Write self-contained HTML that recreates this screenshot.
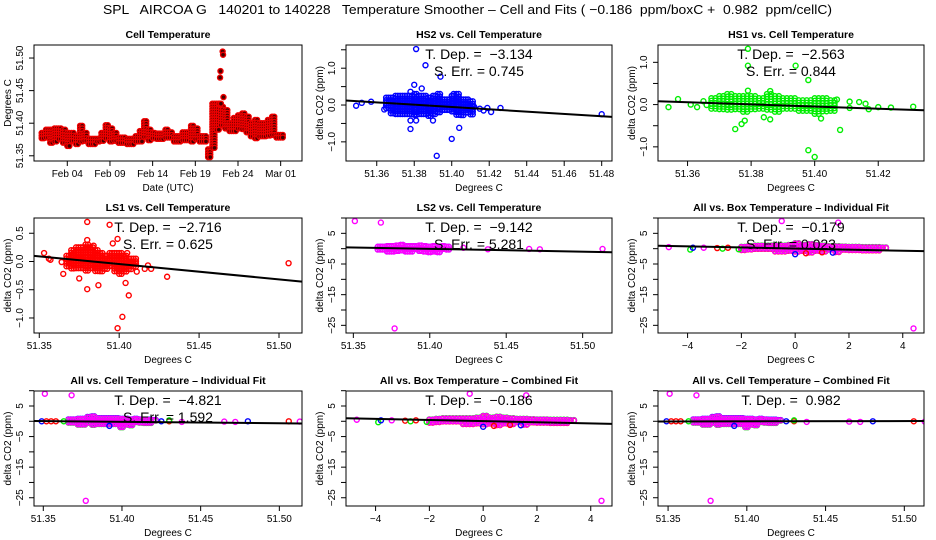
<!DOCTYPE html>
<html><head><meta charset="utf-8">
<style>
html,body{margin:0;padding:0;background:#fff;}
svg{display:block;font-family:"Liberation Sans",sans-serif;}
svg text{white-space:pre;}
</style></head>
<body>
<svg id="chart" width="936" height="540" viewBox="0 0 936 540" xmlns="http://www.w3.org/2000/svg">
<text x="103" y="14" font-size="13" textLength="729" lengthAdjust="spacingAndGlyphs" xml:space="preserve">SPL   AIRCOA G   140201 to 140228   Temperature Smoother – Cell and Fits ( −0.186  ppm/boxC +  0.982  ppm/cellC)</text>
</svg>
<script>
// ---- Panel 1: cell temperature time series (half-day slots from Feb 1.0) ----
const tsLo=[51.375,51.375,51.37,51.372,51.375,51.37,51.365,51.37,51.368,51.372,51.37,51.366,51.368,51.37,51.372,51.375,51.372,51.372,51.37,51.37,51.366,51.366,51.37,51.372,51.378,51.372,51.375,51.376,51.376,51.376,51.375,51.372,51.37,51.372,51.372,51.372,51.376,51.37,51.372,51.345,51.36,51.39,51.395,51.39,51.385,51.385,51.39,51.39,51.385,51.38,51.376,51.38,51.378,51.38,51.38,51.376,51.376];
const tsHi=[51.385,51.39,51.39,51.392,51.392,51.39,51.385,51.385,51.38,51.396,51.385,51.376,51.376,51.376,51.385,51.397,51.392,51.385,51.378,51.378,51.376,51.376,51.38,51.388,51.403,51.39,51.385,51.384,51.384,51.39,51.386,51.38,51.38,51.386,51.386,51.396,51.392,51.38,51.38,51.36,51.43,51.43,51.425,51.42,51.40,51.408,51.412,51.415,51.41,51.40,51.405,51.40,51.40,51.405,51.41,51.382,51.382];
const tsOutT=[20.8,20.9,20.95,21.0,21.2,21.25,21.3];
const tsOutV=[51.43,51.47,51.48,51.43,51.51,51.505,51.44];
const dateTicks=[3,8,13,18,23,28];
const dateLabels=["Feb 04","Feb 09","Feb 14","Feb 19","Feb 24","Mar 01"];
const p1YTicks=[51.35,51.40,51.45,51.50];
const p1YLabels=["51.35","51.40","51.45","51.50"];

// ---- HS2 ----
const hs2BinX=[51.365,51.3675,51.37,51.3725,51.375,51.3775,51.38,51.3825,51.385,51.3875,51.39,51.3925,51.395,51.3975,51.40,51.4025,51.405,51.4075,51.41];
const hs2BinLo=[-0.15,-0.25,-0.25,-0.25,-0.25,-0.25,-0.3,-0.3,-0.25,-0.3,-0.3,-0.25,-0.2,-0.2,-0.2,-0.3,-0.3,-0.25,-0.3];
const hs2BinHi=[0.2,0.2,0.25,0.25,0.25,0.25,0.3,0.25,0.25,0.2,0.25,0.3,0.15,0.15,0.25,0.3,0.15,0.15,0.1];
const hs2OutX=[51.349,51.352,51.357,51.364,51.381,51.386,51.394,51.380,51.384,51.378,51.378,51.381,51.378,51.390,51.392,51.400,51.404,51.401,51.415,51.417,51.419,51.421,51.426,51.480,51.412];
const hs2OutY=[-0.02,0.06,0.09,-0.12,1.52,1.08,0.77,0.55,0.45,0.36,-0.42,-0.42,-0.65,-0.42,-1.38,-0.92,-0.62,0.3,-0.1,-0.15,-0.08,-0.19,-0.08,-0.25,-0.05];
// ---- HS1 ----
const hs1BinX=[51.3675,51.37,51.3725,51.375,51.3775,51.38,51.3825,51.385,51.3875,51.39,51.3925,51.395,51.3975,51.40,51.4025,51.405];
const hs1BinLo=[-0.1,-0.15,-0.15,-0.15,-0.2,-0.15,-0.15,-0.15,-0.2,-0.15,-0.1,-0.15,-0.2,-0.25,-0.2,-0.2];
const hs1BinHi=[0.15,0.2,0.25,0.2,0.2,0.2,0.15,0.25,0.2,0.15,0.15,0.1,0.1,0.15,0.15,0.1];
const hs1OutX=[51.354,51.357,51.361,51.363,51.365,51.366,51.379,51.379,51.394,51.398,51.379,51.386,51.378,51.377,51.375,51.384,51.386,51.398,51.400,51.408,51.402,51.407,51.411,51.411,51.414,51.416,51.417,51.420,51.424,51.431];
const hs1OutY=[-0.06,0.13,0.0,-0.06,0.08,-0.01,1.32,0.92,0.92,0.58,0.33,0.32,-0.38,-0.46,-0.58,-0.3,-0.35,-1.08,-1.24,-0.6,-0.33,0.12,0.07,-0.08,0.06,0.02,-0.11,-0.06,-0.07,-0.05];
// ---- LS1 ----
const ls1BinX=[51.367,51.37,51.373,51.376,51.379,51.382,51.385,51.388,51.391,51.394,51.397,51.40,51.403,51.406,51.409];
const ls1BinLo=[-0.1,-0.15,-0.15,-0.15,-0.2,-0.15,-0.2,-0.2,-0.15,-0.1,-0.2,-0.25,-0.2,-0.15,-0.1];
const ls1BinHi=[0.1,0.2,0.25,0.25,0.3,0.25,0.2,0.15,0.1,0.15,0.15,0.15,0.1,0.05,0.05];
const ls1OutX=[51.353,51.356,51.357,51.364,51.365,51.375,51.380,51.380,51.380,51.387,51.394,51.396,51.399,51.405,51.404,51.406,51.402,51.399,51.411,51.416,51.418,51.42,51.43,51.506,51.384];
const ls1OutY=[0.15,0.05,0.03,-0.01,-0.22,-0.3,0.7,0.38,-0.49,-0.42,0.65,0.32,0.4,0.15,-0.38,-0.6,-0.98,-1.18,-0.18,-0.13,-0.07,-0.13,-0.27,-0.03,0.28];
// ---- LS2 ----
const ls2BinX=[51.366,51.369,51.372,51.375,51.378,51.381,51.384,51.387,51.39,51.393,51.396,51.399,51.402,51.405,51.408,51.411];
const ls2BinLo=[-0.8,-0.8,-1,-1,-0.8,-1,-1,-1,-0.8,-1,-1.5,-1.8,-1,-1.5,-0.8,-0.5];
const ls2BinHi=[0.6,0.6,0.8,0.8,1,1.2,0.8,0.8,0.8,1,0.8,0.6,0.8,0.6,0.8,0.6];
const ls2OutX=[51.351,51.368,51.377,51.422,51.438,51.465,51.472,51.513];
const ls2OutY=[9,8.5,-26,0.3,-0.2,-0.1,-0.2,-0.1];
// ---- All vs box ----
const boxBinX=[-2,-1.75,-1.5,-1.25,-1,-0.75,-0.5,-0.25,0,0.25,0.5,0.75,1,1.25,1.5,1.75,2,2.25,2.5,2.75,3,3.25];
const boxBinLo=[-0.5,-0.5,-0.6,-0.6,-0.6,-0.7,-0.8,-0.8,-1.5,-1,-1.2,-0.8,-1,-0.8,-1,-0.7,-0.6,-0.5,-0.6,-0.5,-0.5,-0.3];
const boxBinHi=[0.6,0.8,1,1,1,1,1,1.2,1.8,1.2,1.5,1.2,1,0.8,0.8,0.7,0.6,0.6,0.5,0.5,0.5,0.4];
const boxOutX=[-4.7,-3.9,-3.8,-3.4,-2.9,-2.7,-2.5,-2.1,-0.5,1.6,4.4,0,0.4,1.0,1.4];
const boxOutY=[0.5,-0.3,0.3,0.3,0.2,0,0.3,-0.2,9,8.5,-26,-1.8,-1.5,-1.2,-1.3];
const boxOutC=["m","g","b","m","r","g","r","g","m","m","m","b","r","r","b"];
// ---- All vs cell ----
const cellBinX=[51.366,51.369,51.372,51.375,51.378,51.381,51.384,51.387,51.39,51.393,51.396,51.399,51.402,51.405,51.408,51.411,51.414,51.417,51.42];
const cellBinLo=[-0.8,-0.8,-1,-1,-0.8,-1,-1,-1,-1.5,-1,-1.5,-1.8,-1,-1.5,-0.8,-0.5,-0.5,-0.5,-0.4];
const cellBinHi=[0.6,0.6,0.8,0.8,1.4,1.6,1,1,1,1,1,0.8,0.8,0.6,0.8,0.6,0.5,0.5,0.4];
const cellOutX=[51.349,51.352,51.355,51.358,51.363,51.351,51.368,51.377,51.425,51.43,51.43,51.438,51.465,51.472,51.48,51.506,51.513,51.392];
const cellOutY=[0,0,0,0,0,9,8.5,-26,0,0,0.3,-0.2,-0.1,-0.2,0,0,-0.1,-1.5];
const cellOutC=["b","r","r","r","g","m","m","m","b","r","g","m","m","m","b","r","m","b"];

const fitSlopes=[-3.134,-2.563,-2.716,-9.142,-0.179,-4.821,-0.186,0.982];
const fitErrs=[0.745,0.844,0.625,5.281,0.023,1.592];

const svg=document.getElementById('chart');
const NS="http://www.w3.org/2000/svg";
function mk(tag,attrs,parent){const e=document.createElementNS(NS,tag);for(const k in attrs)e.setAttribute(k,attrs[k]);(parent||svg).appendChild(e);return e;}
const COL={r:"#ff0000",g:"#00ee00",b:"#0000ff",m:"#ff00ff"};

function panel(id,box,xl,yl,title){
  const g=mk('g',{});
  
  
  const [L,T,R,B]=box;
  const sx=v=>L+(v-xl[0])/(xl[1]-xl[0])*(R-L);
  const sy=v=>B-(v-yl[0])/(yl[1]-yl[0])*(B-T);
  const t=mk('text',{x:(L+R)/2,y:T-7,'text-anchor':'middle','font-size':10.5,'font-weight':'bold'},g);
  t.textContent=title;
  
  
  const cl=mk('clipPath',{id:'c'+id},g);mk('rect',{x:L,y:T,width:R-L,height:B-T},cl);
  const plot=mk('g',{'clip-path':'url(#c'+id+')'},g);
  return {g,plot,sx,sy,L,T,R,B};
}
function axes(p,xt,xlab,yt,ylab,xtitle,ytitle){
  const a=mk('g',{stroke:'#000','stroke-width':1,fill:'none'},p.g);
  const fr=mk('rect',{x:p.L,y:p.T,width:p.R-p.L,height:p.B-p.T},a);
  
  
  xt.forEach((v,i)=>{const x=p.sx(v);mk('line',{x1:x,x2:x,y1:p.B,y2:p.B+5},a);
    const tx=mk('text',{x:x,y:p.B+16,'text-anchor':'middle','font-size':10,fill:'#000',stroke:'none'},p.g);tx.textContent=xlab[i];
    
    });
  yt.forEach((v,i)=>{const y=p.sy(v);mk('line',{x1:p.L-5,x2:p.L,y1:y,y2:y},a);
    if(ylab[i]!==""){const ty=mk('text',{x:0,y:0,transform:`translate(${p.L-11},${y}) rotate(-90)`,'text-anchor':'middle','font-size':10,fill:'#000'},p.g);ty.textContent=ylab[i];
    
    }});
  const xtt=mk('text',{x:(p.L+p.R)/2,y:p.B+30,'text-anchor':'middle','font-size':10},p.g);xtt.textContent=xtitle;
  
  
  const ytt=mk('text',{x:0,y:0,transform:`translate(${p.L-23},${(p.T+p.B)/2}) rotate(-90)`,'text-anchor':'middle','font-size':10},p.g);ytt.textContent=ytitle;
  
  
}
function dot(p,x,y,c,fill){const e=mk('circle',{cx:x,cy:y,r:2.5,fill:fill||'none',stroke:c,'stroke-width':1.4},p.plot);
  
  }
function cloud(p,bx,lo,hi,c,dy){
  const step=Math.max(Math.abs(p.sx(bx[1])-p.sx(bx[0])),1);
  bx.forEach((v,i)=>{const y0=p.sy(hi[i]),y1=p.sy(lo[i]);
    for(let k=0;k<2;k++){const x=p.sx(v)+k*step/2;
      for(let y=y0;y<=y1+0.1;y+=2.6) dot(p,x,y+(dy||0),c);}});
}
function outs(p,xs,ys,c,cs){xs.forEach((v,i)=>dot(p,p.sx(v),p.sy(ys[i]),cs?COL[cs[i]]:c));}
function fit(p,slope,center,offset){
  const l=mk('line',{x1:p.L,x2:p.R,y1:p.sy(offset+slope*(p.xl0-center)),y2:p.sy(offset+slope*(p.xl1-center)),stroke:'#000','stroke-width':2},p.g);
  
  }
function ann(p,lines){lines.forEach((s,i)=>{const t=mk('text',{x:(p.L+p.R)/2,y:p.T+14+i*17,'text-anchor':'middle','font-size':14},p.g);t.textContent=s;
  
  });}
function fmt(v){return (v<0?'\u2212':'')+Math.abs(v).toFixed(3);}

const cellYT=[10,5,0,-5,-10,-15,-20,-25], cellYL=["","5","","\u22125","","\u221215","","\u221225"];
const tempXT=[51.35,51.40,51.45,51.50], tempXL=["51.35","51.40","51.45","51.50"];
const boxXT=[-4,-2,0,2,4], boxXL=["\u22124","\u22122","0","2","4"];

// Panel 1
(function(){
  const p=panel('cell-temperature-panel',[34,45,302,161],[-0.9,30.5],[51.342,51.52],'Cell Temperature');
  tsLo.forEach((lo,i)=>{const t=i*0.5;const y0=p.sy(tsHi[i]),y1=p.sy(lo);
    for(let k=0;k<2;k++){const x=p.sx(t+k*0.25);for(let y=y0;y<=y1+0.1;y+=2.6)dot(p,x,y,'#ee0000','#400');}});
  tsOutT.forEach((t,i)=>dot(p,p.sx(t),p.sy(tsOutV[i]),'#ee0000','#400'));
  axes(p,dateTicks,dateLabels,p1YTicks,p1YLabels,'Date (UTC)','Degrees C');
})();
function scatterPanel(id,box,xl,yl,title,xt,xlab,yt,ylab,draw,slope,center,offset,annLines){
  const p=panel(id,box,xl,yl,title);p.xl0=xl[0];p.xl1=xl[1];
  draw(p);fit(p,slope,center,offset);axes(p,xt,xlab,yt,ylab,'Degrees C','delta CO2 (ppm)');ann(p,annLines);
}
scatterPanel('hs2-panel',[346,45,612,161],[51.3436,51.4855],[-1.52,1.63],'HS2 vs. Cell Temperature',
  [51.36,51.38,51.40,51.42,51.44,51.46,51.48],["51.36","51.38","51.40","51.42","51.44","51.46","51.48"],
  [1.5,1,0.5,0,-0.5,-1],["","1.0","","0.0","","\u22121.0"],
  p=>{cloud(p,hs2BinX,hs2BinLo,hs2BinHi,COL.b);outs(p,hs2OutX,hs2OutY,COL.b);},
  fitSlopes[0],51.383,0,['T. Dep. =  '+fmt(fitSlopes[0]),'S. Err. = '+fmt(fitErrs[0])]);
scatterPanel('hs1-panel',[658,45,924,161],[51.3507,51.4344],[-1.335,1.41],'HS1 vs. Cell Temperature',
  [51.36,51.38,51.40,51.42],["51.36","51.38","51.40","51.42"],
  [1,0.5,0,-0.5,-1],["1.0","","0.0","","\u22121.0"],
  p=>{cloud(p,hs1BinX,hs1BinLo,hs1BinHi,COL.g);outs(p,hs1OutX,hs1OutY,COL.g);},
  fitSlopes[1],51.3819,0,['T. Dep. =  '+fmt(fitSlopes[1]),'S. Err. = '+fmt(fitErrs[1])]);
scatterPanel('ls1-panel',[34,218,302,333],[51.3467,51.5144],[-1.266,0.77],'LS1 vs. Cell Temperature',
  tempXT,tempXL,[0.5,0,-0.5,-1],["0.5","0.0","\u22120.5","\u22121.0"],
  p=>{cloud(p,ls1BinX,ls1BinLo,ls1BinHi,COL.r);outs(p,ls1OutX,ls1OutY,COL.r);},
  fitSlopes[2],51.3835,0,['T. Dep. =  '+fmt(fitSlopes[2]),'S. Err. = '+fmt(fitErrs[2])]);
scatterPanel('ls2-panel',[346,218,612,333],[51.3452,51.5192],[-27.5,10],'LS2 vs. Cell Temperature',
  tempXT,tempXL,cellYT,cellYL,
  p=>{cloud(p,ls2BinX,ls2BinLo,ls2BinHi,COL.b);cloud(p,ls2BinX,ls2BinLo,ls2BinHi,COL.m);outs(p,ls2OutX,ls2OutY,COL.m);},
  fitSlopes[3],51.3933,0,['T. Dep. =  '+fmt(fitSlopes[3]),'S. Err. = '+fmt(fitErrs[3])]);
function allBox(p){cloud(p,boxBinX,boxBinLo,boxBinHi,COL.g);cloud(p,boxBinX,boxBinLo,boxBinHi,COL.r,0.6);cloud(p,boxBinX,boxBinLo,boxBinHi,COL.m,0.3);outs(p,boxOutX,boxOutY,null,boxOutC);}
function allCell(p){cloud(p,cellBinX,cellBinLo,cellBinHi,COL.b);cloud(p,cellBinX,cellBinLo,cellBinHi,COL.g,0.6);cloud(p,cellBinX,cellBinLo,cellBinHi,COL.m,0.3);outs(p,cellOutX,cellOutY,null,cellOutC);}
scatterPanel('all-box-individual-panel',[658,218,924,333],[-5.1,4.79],[-27.5,10],'All vs. Box Temperature \u2013 Individual Fit',
  boxXT,boxXL,cellYT,cellYL,allBox,fitSlopes[4],-0.1,0.06,['T. Dep. =  '+fmt(fitSlopes[4]),'S. Err. = '+fmt(fitErrs[4])]);
scatterPanel('all-cell-individual-panel',[34,391,302,506],[51.3441,51.5144],[-27.7,9.9],'All vs. Cell Temperature \u2013 Individual Fit',
  tempXT,tempXL,cellYT,cellYL,allCell,fitSlopes[5],51.364,0,['T. Dep. =  '+fmt(fitSlopes[5]),'S. Err. = '+fmt(fitErrs[5])]);
scatterPanel('all-box-combined-panel',[346,391,612,506],[-5.1,4.79],[-27.7,9.9],'All vs. Box Temperature \u2013 Combined Fit',
  boxXT,boxXL,cellYT,cellYL,allBox,fitSlopes[6],0,0.05,['T. Dep. =  '+fmt(fitSlopes[6])]);
scatterPanel('all-cell-combined-panel',[658,391,924,506],[51.3436,51.5125],[-27.7,9.9],'All vs. Cell Temperature \u2013 Combined Fit',
  tempXT,tempXL,cellYT,cellYL,allCell,fitSlopes[7],51.42,0,['T. Dep. =  '+fmt(fitSlopes[7])]);
</script>
</body></html>
